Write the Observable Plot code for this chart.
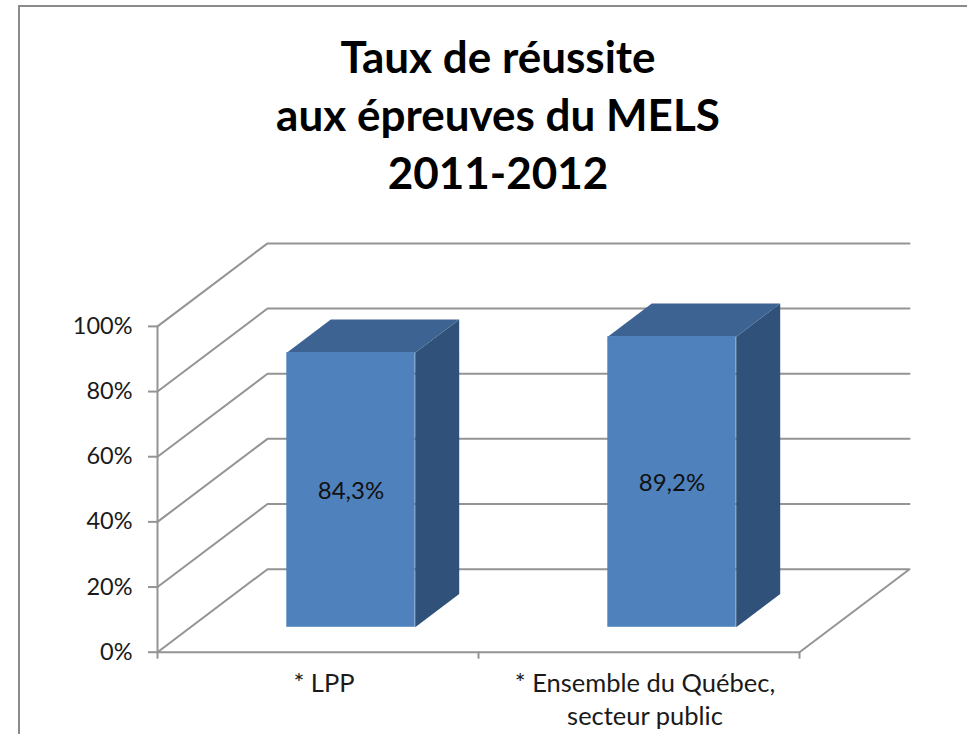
<!DOCTYPE html>
<html lang="fr"><head><meta charset="utf-8">
<script src="https://cdn.jsdelivr.net/npm/d3@7"></script>
<script src="https://cdn.jsdelivr.net/npm/@observablehq/plot@0.6"></script>
<style>
html,body{margin:0;padding:0;background:#fff;width:967px;height:734px;overflow:hidden}
#frame{position:absolute;left:18px;top:5px;width:1000px;height:800px;border:2.5px solid #8a8a8a;box-sizing:border-box}
#title{position:absolute;left:0;top:27px;width:996px;text-align:center;font:700 44px/58px Lato,sans-serif;color:#000}
#chart{position:absolute;left:0;top:200px}
</style></head><body>
<div id="frame"></div>
<div id="title">Taux de réussite<br>aux épreuves du MELS<br>2011-2012</div>
<div id="chart"></div>
<script>
const categories = ["* LPP", "* Ensemble du Québec,\nsecteur public"];
const values = [84.3, 89.2];
const valueLabels = ["84,3%", "89,2%"];
const yTicks = [0, 20, 40, 60, 80, 100];
const xTicks = [0, 1, 2];
const barFront = 0.30, barBack = 0.70, halfBar = 0.2;
const depthX = 0.3427, depthY = 25.48;

const pt = (x, v, d) => ({x: x + depthX * d, y: v + depthY * d});
const poly = (key, pts) => pts.map(p => ({...pt(...p), key}));

const grid = yTicks.flatMap(v => poly("g" + v, v === 0
  ? [[0,0,0],[0,0,1],[2,0,1],[2,0,0],[0,0,0]]
  : [[0,v,0],[0,v,1],[2,v,1]]));

const rows = categories.map((c, i) => ({c, i, v: values[i], l: valueLabels[i], mid: i + 0.5}));
const sides = rows.flatMap(r => poly("s" + r.i, [
  [r.mid + halfBar, 0, barFront],[r.mid + halfBar, 0, barBack],
  [r.mid + halfBar, r.v, barBack],[r.mid + halfBar, r.v, barFront]]));
const tops = rows.flatMap(r => poly("t" + r.i, [
  [r.mid - halfBar, r.v, barFront],[r.mid + halfBar, r.v, barFront],
  [r.mid + halfBar, r.v, barBack],[r.mid - halfBar, r.v, barBack]]));

const txt = "#1a1a1a";

const chart = Plot.plot({
  width: 967, height: 534,
  marginLeft: 157, marginRight: 168, marginTop: 125.9, marginBottom: 82.3,
  x: {domain: [0, 2], range: [157, 799]},
  y: {domain: [0, 100], range: [451.7, 125.9]},
  style: {fontFamily: "Lato, sans-serif", background: "transparent", overflow: "visible"},
  marks: [
    Plot.line(grid, {x: "x", y: "y", z: "key", stroke: "#949494", strokeWidth: 2, curve: "linear"}),
    Plot.ruleX([0], {y1: 0, y2: 100, stroke: "#949494", strokeWidth: 2}),
    Plot.axisY({ticks: yTicks, tickFormat: d => d + "%", tickSize: 9, tickPadding: 16, label: null,
      fontSize: 23.5, color: txt, stroke: "#949494", strokeWidth: 2, strokeOpacity: 1}),
    Plot.axisX({ticks: xTicks, tickSize: 7, tickFormat: () => "", label: null, stroke: "#949494", strokeWidth: 2, strokeOpacity: 1}),
    Plot.text(rows, {x: "mid", y: () => 0, text: "c", dx: 6, dy: 16.5, lineAnchor: "top", fontSize: 25.5, lineHeight: 1.3, fill: txt, textAnchor: "middle"}),
    Plot.line(sides, {x: "x", y: "y", z: "key", fill: "#30527a", stroke: "none"}),
    Plot.line(tops, {x: "x", y: "y", z: "key", fill: "#3c6391", stroke: "none"}),
    Plot.rect(rows, {
      x1: r => pt(r.mid - halfBar, 0, barFront).x,
      x2: r => pt(r.mid + halfBar, 0, barFront).x,
      y1: r => pt(0, 0, barFront).y,
      y2: r => pt(0, r.v, barFront).y,
      fill: "#4f81bd"}),
    Plot.text(rows, {
      x: r => pt(r.mid, 0, barFront).x,
      y: r => pt(0, r.v / 2, barFront).y,
      dy: 1,
      text: "l", fontSize: 24, fill: "#111"})
  ]
});
document.getElementById("chart").append(chart);
</script></body></html>
